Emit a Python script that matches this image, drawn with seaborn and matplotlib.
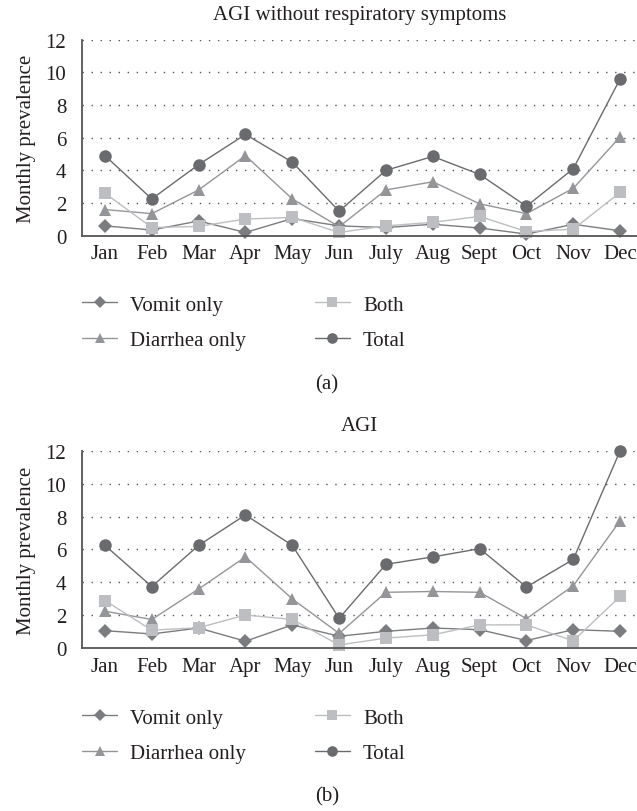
import numpy as np
import pandas as pd
import matplotlib
matplotlib.use('Agg')
import matplotlib.pyplot as plt
import seaborn as sns

sns.set_style('white')
plt.rcParams['font.family'] = ['Liberation Serif', 'DejaVu Serif']

months = ['Jan', 'Feb', 'Mar', 'Apr', 'May', 'Jun', 'July', 'Aug', 'Sept', 'Oct', 'Nov', 'Dec']
series_names = ['Vomit only', 'Diarrhea only', 'Both', 'Total']

# (a) AGI without respiratory symptoms
a_vomit = [0.6, 0.35, 0.9, 0.2, 1.05, 0.6, 0.5, 0.7, 0.47, 0.1, 0.7, 0.3]
a_diarrhea = [1.6, 1.35, 2.8, 4.9, 2.25, 0.55, 2.8, 3.3, 1.95, 1.35, 2.9, 6.05]
a_both = [2.6, 0.5, 0.57, 1.02, 1.12, 0.2, 0.6, 0.82, 1.18, 0.25, 0.4, 2.65]
a_total = [4.9, 2.25, 4.35, 6.2, 4.5, 1.5, 4.0, 4.85, 3.75, 1.8, 4.1, 9.6]

# (b) AGI
b_vomit = [1.07, 0.87, 1.23, 0.43, 1.42, 0.73, 1.03, 1.23, 1.13, 0.47, 1.13, 1.03]
b_diarrhea = [2.25, 1.75, 3.6, 5.55, 3.0, 0.9, 3.4, 3.45, 3.4, 1.8, 3.8, 7.75]
b_both = [2.9, 1.1, 1.25, 2.02, 1.75, 0.2, 0.62, 0.82, 1.42, 1.42, 0.45, 3.15]
b_total = [6.25, 3.75, 6.25, 8.1, 6.25, 1.82, 5.1, 5.55, 6.05, 3.72, 5.4, 12.0]

colors = {'Vomit only': '#7b7c7f', 'Diarrhea only': '#949598',
          'Both': '#bdbec1', 'Total': '#6a6b6e'}
markers = {'Vomit only': 'D', 'Diarrhea only': '^', 'Both': 's', 'Total': 'o'}
msizes = {'Vomit only': 7, 'Diarrhea only': 8.5, 'Both': 8, 'Total': 9}

FS = 15
TXT = '#231f20'
AXC = '#555555'


def make_df(vomit, diarrhea, both, total):
    frames = []
    for name, vals in zip(series_names, [vomit, diarrhea, both, total]):
        frames.append(pd.DataFrame({'pos': np.arange(len(months)), 'value': vals, 'series': name}))
    return pd.concat(frames, ignore_index=True)


def draw_panel(ax, df, title):
    for name in series_names:
        sub = df[df['series'] == name]
        sns.lineplot(data=sub, x='pos', y='value', ax=ax, color=colors[name],
                     marker=markers[name], markersize=msizes[name], markeredgewidth=0,
                     linewidth=1.0, label=name, clip_on=False)
    ax.set_xlim(-0.5, 11.36)
    ax.set_ylim(0, 12)
    ax.set_xticks(np.arange(len(months)))
    ax.set_xticklabels(months)
    ax.set_xticks(np.arange(-0.5, 11, 1), minor=True)
    ax.set_yticks(np.arange(0, 13, 2))
    ax.tick_params(axis='x', which='major', length=0, pad=6, labelsize=FS, colors=TXT)
    ax.tick_params(axis='x', which='minor', length=5, width=1.2, color=AXC, direction='out')
    ax.tick_params(axis='y', which='major', length=5, width=1.2, color=AXC,
                   direction='out', pad=6, labelsize=FS, labelcolor=TXT)
    for y in np.arange(2, 13, 2):
        ax.axhline(y, color=AXC, linewidth=1.0, linestyle=(0, (1, 5.5)), zorder=0)
    for side in ['top', 'right']:
        ax.spines[side].set_visible(False)
    for side in ['left', 'bottom']:
        ax.spines[side].set_color(AXC)
        ax.spines[side].set_linewidth(1.3)
    ax.set_xlabel('')
    ax.set_ylabel('Monthly prevalence', fontsize=FS, color=TXT, labelpad=7)
    ax.set_title(title, fontsize=FS, color=TXT, pad=15)
    handles, labels = ax.get_legend_handles_labels()
    ax.get_legend().remove()
    return handles, labels


fig = plt.figure(figsize=(6.37, 8.12), dpi=100)
ax1 = fig.add_axes([0.128, 0.7085, 0.872, 0.2415])
ax2 = fig.add_axes([0.128, 0.2004, 0.872, 0.2433])

df_a = make_df(a_vomit, a_diarrhea, a_both, a_total)
df_b = make_df(b_vomit, b_diarrhea, b_both, b_total)

h1, l1 = draw_panel(ax1, df_a, 'AGI without respiratory symptoms')
h2, l2 = draw_panel(ax2, df_b, 'AGI')

for handles, labels, ytop in [(h1, l1, 1 - 296 / 812), (h2, l2, 1 - 709 / 812)]:
    fig.legend(handles, labels, loc='upper left', bbox_to_anchor=(82 / 637, ytop),
               ncol=2, frameon=False, fontsize=FS, handlelength=1.68,
               handletextpad=0.63, columnspacing=3.3, labelspacing=0.78,
               markerscale=0.85, borderpad=0, borderaxespad=0, labelcolor=TXT)

fig.text(327 / 637, 1 - 385 / 812, '(a)', ha='center', va='center', fontsize=FS, color=TXT)
fig.text(327 / 637, 1 - 797 / 812, '(b)', ha='center', va='center', fontsize=FS, color=TXT)

fig.savefig('out.png', dpi=100)
